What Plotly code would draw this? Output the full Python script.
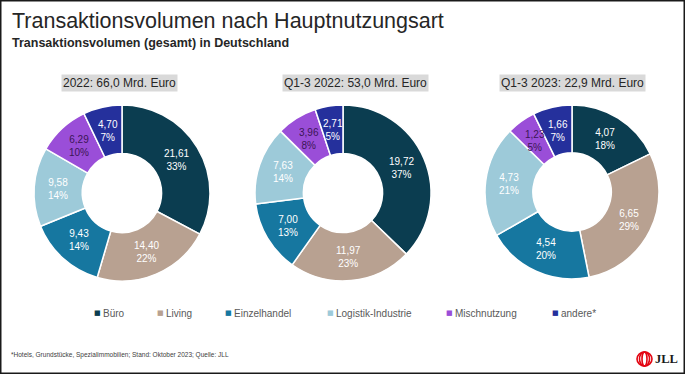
import math
import plotly.graph_objects as go

W, H = 685, 374

categories = ["Büro", "Living", "Einzelhandel", "Logistik-Industrie", "Mischnutzung", "andere*"]
colors = ["#0b3d50", "#b8a191", "#1677a0", "#9dcad9", "#9a4ed8", "#25309c"]
text_colors = ["white", "white", "white", "white", "#3b1656", "white"]

vals_2022 = [21.61, 14.40, 9.43, 9.58, 6.29, 4.70]
pct_2022 = ["33%", "22%", "14%", "14%", "10%", "7%"]
vals_q3_2022 = [19.72, 11.97, 7.00, 7.63, 3.96, 2.71]
pct_q3_2022 = ["37%", "23%", "13%", "14%", "8%", "5%"]
vals_q3_2023 = [4.07, 6.65, 4.54, 4.73, 1.23, 1.66]
pct_q3_2023 = ["18%", "29%", "20%", "21%", "5%", "7%"]

chart_titles = ["2022: 66,0 Mrd. Euro", "Q1-3 2022: 53,0 Mrd. Euro", "Q1-3 2023: 22,9 Mrd. Euro"]

HOLE = 0.45

def px(x):
    return x / W

def py(y):
    return 1 - y / H

# pie placement (pixel centre, radius)
pies = [
    (vals_2022, pct_2022, 122, 193, 88),
    (vals_q3_2022, pct_q3_2022, 343, 193, 88),
    (vals_q3_2023, pct_q3_2023, 572, 192, 87),
]

fig = go.Figure()
annotations = []
for i, (vals, pcts, cx, cy, r) in enumerate(pies):
    fig.add_trace(go.Pie(
        labels=categories,
        values=vals,
        textinfo="none",
        hole=HOLE,
        sort=False,
        direction="clockwise",
        rotation=0,
        marker=dict(colors=colors, line=dict(color="white", width=1.5)),
        domain=dict(x=[px(cx - r), px(cx + r)], y=[py(cy + r), py(cy - r)]),
        showlegend=False,
        hoverinfo="label+value+percent",
    ))
    # slice labels at the middle of each ring segment (derived from the values)
    total = sum(vals)
    cum = 0.0
    rm = r * (1 + HOLE) / 2
    for v, p, tc in zip(vals, pcts, text_colors):
        mid = (cum + v / 2) / total * 2 * math.pi
        cum += v
        lx = cx + rm * math.sin(mid)
        ly = cy - rm * math.cos(mid)
        annotations.append(dict(
            text=f"{v:.2f}".replace(".", ",") + "<br>" + p,
            x=px(lx), y=py(ly), xref="paper", yref="paper",
            xanchor="center", yanchor="middle", showarrow=False,
            font=dict(family="Liberation Sans, Arial", size=10, color=tc)))

# main titles
annotations.append(dict(text="Transaktionsvolumen nach Hauptnutzungsart", x=px(10), y=py(21),
                        xref="paper", yref="paper", xanchor="left", yanchor="middle", showarrow=False,
                        font=dict(family="Liberation Sans, Arial", size=21.5, color="#262626")))
annotations.append(dict(text="<b>Transaktionsvolumen (gesamt) in Deutschland</b>", x=px(10), y=py(43),
                        xref="paper", yref="paper", xanchor="left", yanchor="middle", showarrow=False,
                        font=dict(family="Liberation Sans, Arial", size=12.5, color="#262626")))
# chart title boxes
title_x = [119, 355, 572]
for t, x in zip(chart_titles, title_x):
    annotations.append(dict(text=t, x=px(x), y=py(83), xref="paper", yref="paper",
                            xanchor="center", yanchor="middle", showarrow=False,
                            bgcolor="#d9d9d9", borderpad=1,
                            font=dict(family="Liberation Sans, Arial", size=12, color="#262626")))
# legend
legend_x = [97, 160, 228, 330, 449, 555]
for c, col, x in zip(categories, colors, legend_x):
    annotations.append(dict(text="■", x=px(x), y=py(313),
                            xref="paper", yref="paper", xanchor="center", yanchor="middle",
                            showarrow=False, font=dict(family="DejaVu Sans", size=7, color=col)))
    annotations.append(dict(text=c, x=px(x + 4), y=py(313), xref="paper", yref="paper",
                            xanchor="left", yanchor="middle", showarrow=False,
                            font=dict(family="Liberation Sans, Arial", size=10, color="#595959")))
# footnote
annotations.append(dict(text="*Hotels, Grundstücke, Spezialimmobilien; Stand: Oktober 2023; Quelle: JLL",
                        x=px(9), y=py(355), xref="paper", yref="paper", xanchor="left", yanchor="middle",
                        showarrow=False, font=dict(family="Liberation Sans, Arial", size=6.5, color="#404040")))
# JLL logo text
annotations.append(dict(text="<b>JLL</b>", x=px(653), y=py(359), xref="paper", yref="paper",
                        xanchor="left", yanchor="middle", showarrow=False,
                        font=dict(family="Liberation Serif", size=12.5, color="#1a1a1a")))

shapes = [
    dict(type="rect", xref="paper", yref="paper", x0=px(0.75), x1=px(684.25), y0=py(373.25), y1=py(0.75),
         line=dict(color="#1a1a1a", width=1.5), fillcolor="rgba(0,0,0,0)"),
]
# JLL logo red rings
for dx in [0, 2.5, 5]:
    shapes.append(dict(type="circle", xref="paper", yref="paper",
                       x0=px(637 + dx), x1=px(652 - dx), y0=py(366), y1=py(352),
                       line=dict(color="#e30613", width=1.6)))

fig.update_layout(
    width=W, height=H,
    margin=dict(l=0, r=0, t=0, b=0),
    paper_bgcolor="white", plot_bgcolor="white",
    annotations=annotations, shapes=shapes,
    showlegend=False,
)

fig.write_html("out.html", config={"displayModeBar": False},
               post_script="document.body.style.margin='0';document.body.style.overflow='hidden';")
